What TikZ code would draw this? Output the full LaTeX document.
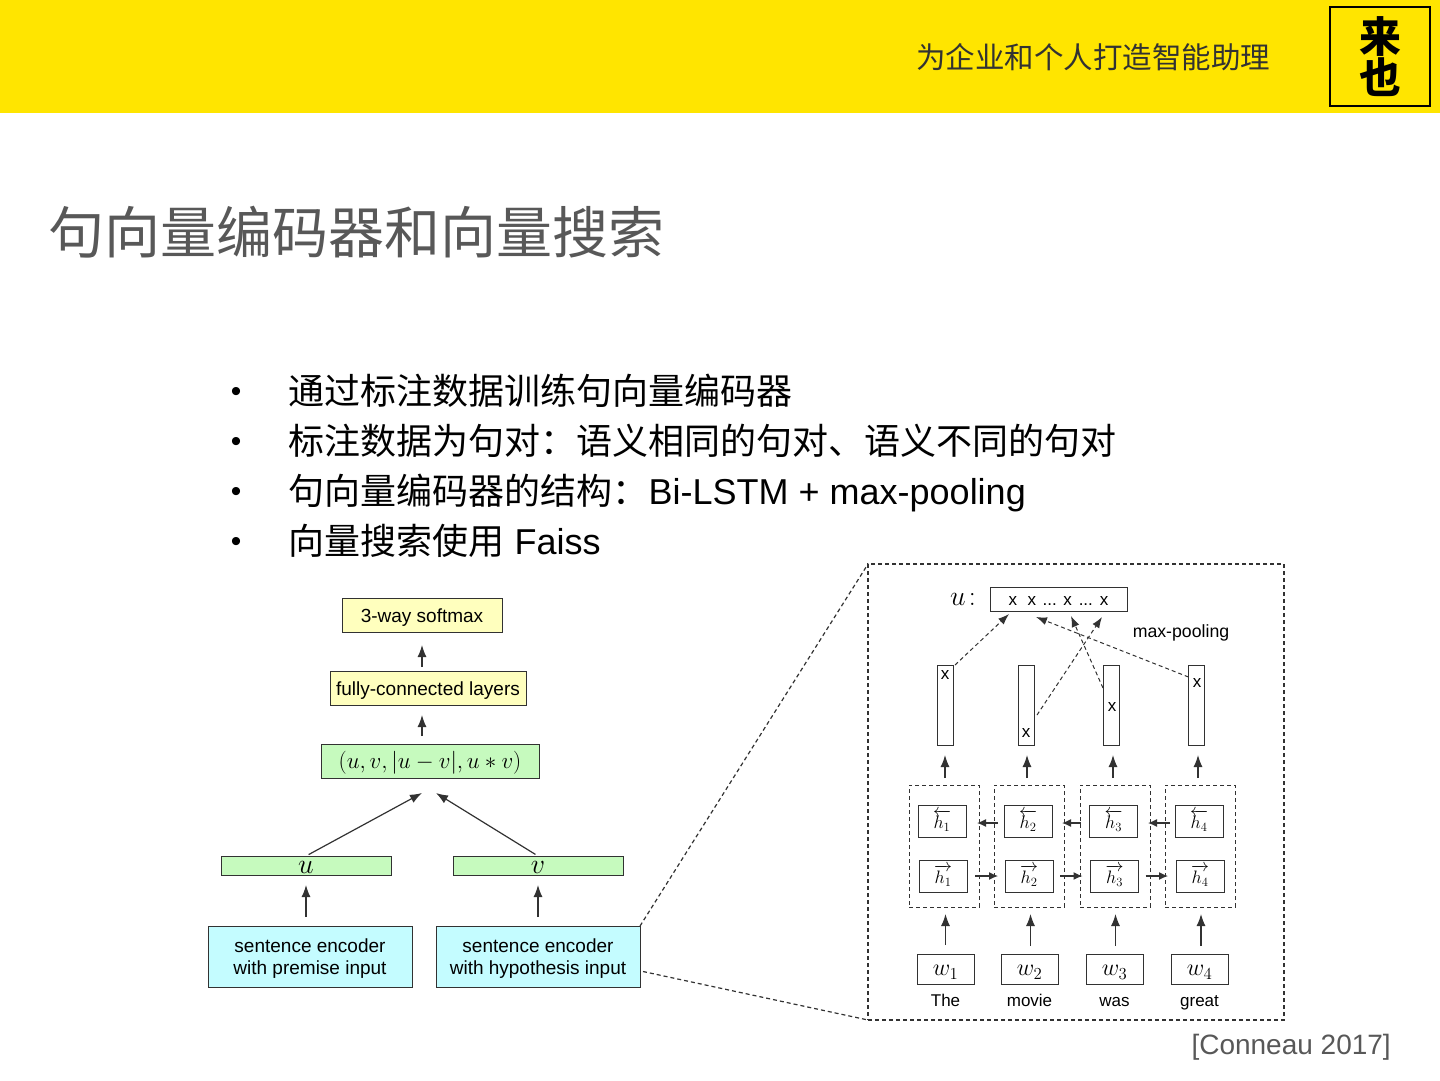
\documentclass[tikz,border=0pt]{standalone}
\usepackage{fix-cm}
\usepackage{amsmath,amssymb}
\usepackage{fontspec}
\setmainfont{Liberation Sans}
\newfontfamily\cjk{Noto Sans CJK SC}
\usetikzlibrary{arrows.meta,calc,positioning}
\definecolor{BrandYellow}{RGB}{255,229,0}
\definecolor{TitleGray}{RGB}{88,88,88}
\definecolor{SoftYellow}{RGB}{255,255,190}
\definecolor{SoftGreen}{RGB}{198,250,190}
\definecolor{SoftCyan}{RGB}{196,252,255}
\definecolor{LineGray}{RGB}{50,50,50}
\tikzset{
  box/.style={draw=LineGray,line width=1pt,outer sep=0pt,inner sep=0pt,font=\fontsize{19}{22}\selectfont,text height=16pt,text depth=2pt},
  twoline/.style={box,align=center,text height=37pt,text depth=2pt},
  hbox/.style={box,minimum width=48pt,minimum height=32pt,font=\fontsize{18}{20}\selectfont,text height=20pt,text depth=5pt},
  wbox/.style={box,minimum width=57pt,minimum height=30pt,font=\fontsize{24}{24}\selectfont,text height=15pt,text depth=2pt},
  vecbox/.style={box,minimum width=16pt,minimum height=80pt,text height=0pt,text depth=0pt},
  group/.style={draw=LineGray,line width=1pt,dash pattern=on 4pt off 3pt,outer sep=0pt,minimum width=70pt,minimum height=122pt},
  word/.style={font=\fontsize{17}{20}\selectfont,inner sep=0pt,text height=12pt,text depth=4pt},
  xmark/.style={font=\fontsize{17}{20}\selectfont,inner sep=0pt},
  arr/.style={-{Latex[length=12pt,width=9pt]},line width=1.2pt,LineGray},
  small arr/.style={-{Latex[length=9pt,width=8pt]},line width=1.1pt,LineGray},
  dash arr/.style={-{Latex[length=11pt,width=8pt]},line width=1pt,LineGray,dash pattern=on 4pt off 3pt},
  zoom line/.style={line width=1.2pt,LineGray,dash pattern=on 4pt off 3pt},
  bullettext/.style={anchor=base west,inner sep=0pt,font=\fontsize{36}{40}\selectfont},
  bulletdot/.style={anchor=base,inner sep=0pt,font=\fontsize{30}{34}\selectfont},
}
\begin{document}
\begin{tikzpicture}[x=1pt,y=-1pt]
\useasboundingbox (0,0) rectangle (1440,1080);
\fill[BrandYellow] (0,0) rectangle (1440,113);
\node[anchor=east,inner sep=0pt,font=\cjk\fontsize{29.5}{32}\selectfont,text=LineGray] (slogan) at (1270.5,57) {为企业和个人打造智能助理};
\node[draw=black,line width=1.1pt,minimum width=100pt,minimum height=99pt,inner sep=0pt,align=center,font=\cjk\bfseries\fontsize{42}{37}\selectfont] (logo) at (1380,56.5) {来\\也};
\node[anchor=west,inner sep=0pt,font=\cjk\fontsize{56}{60}\selectfont,text=TitleGray] (title) at (48.5,232) {句向量编码器和向量搜索};

\node[bulletdot] (dot1) at (236,401) {•};
\node[bullettext] (line1) at (288.5,404) {\cjk 通过标注数据训练句向量编码器};
\node[bulletdot] (dot2) at (236,451) {•};
\node[bullettext] (line2) at (288.5,454) {\cjk 标注数据为句对：语义相同的句对、语义不同的句对};
\node[bulletdot] (dot3) at (236,501) {•};
\node[bullettext] (line3) at (288.5,504) {{\cjk 句向量编码器的结构：}Bi-LSTM + max-pooling};
\node[bulletdot] (dot4) at (236,551) {•};
\node[bullettext] (line4) at (288.5,554) {{\cjk 向量搜索使用} Faiss};

% left model
\node[box,fill=SoftYellow,minimum width=160pt,minimum height=34pt] (softmax) at (422,615) {3-way softmax};
\node[box,fill=SoftYellow,minimum width=196pt,minimum height=34pt,below=39pt of softmax,xshift=6pt] (fc) {fully-connected layers};
\node[box,fill=SoftGreen,minimum width=218pt,minimum height=34pt,below=39pt of fc,xshift=2pt,font=\fontsize{23}{24}\selectfont] (concat) {$(u,v,|u-v|,u*v)$};
\node[twoline,fill=SoftCyan,minimum width=204pt,minimum height=61pt] (premise) at (310,956.5) {sentence encoder\\with premise input};
\node[twoline,fill=SoftCyan,minimum width=204pt,minimum height=61pt,right=24pt of premise] (hypothesis) {sentence encoder\\with hypothesis input};
\node[box,fill=SoftGreen,minimum width=170pt,minimum height=19pt,above=51pt of premise,xshift=-4pt,font=\fontsize{28}{28}\selectfont,text height=16pt,text depth=1pt] (ubox) {$u$};
\node[box,fill=SoftGreen,minimum width=170pt,minimum height=19pt,above=51pt of hypothesis,font=\fontsize{28}{28}\selectfont,text height=16pt,text depth=1pt] (vbox) {$v$};
\coordinate (uin) at (422,793);
\coordinate (vin) at (436,793);
\draw[arr,shorten <=4pt,shorten >=13pt] (fc.north -| softmax) -- (softmax);
\draw[arr,shorten <=8pt,shorten >=10pt] (concat.north -| softmax) -- (fc.south -| softmax);
\draw[arr,shorten <=3pt] (ubox.north) -- (uin);
\draw[arr,shorten <=3pt] (vbox.north) -- (vin);
\draw[arr,shorten <=9pt,shorten >=10pt] (premise.north -| ubox) -- (ubox);
\draw[arr,shorten <=9pt,shorten >=10pt] (hypothesis.north) -- (vbox);

% zoomed encoder
\node[draw=LineGray,line width=1.2pt,dash pattern=on 4pt off 3pt,minimum width=416pt,minimum height=456pt,outer sep=0pt] (frame) at (1076,792) {};
\draw[zoom line] (hypothesis.north east) -- (frame.north west);
\draw[zoom line] ([xshift=3pt,yshift=-15pt]hypothesis.east) -- (frame.south west);

\node[wbox] (w1) at (945.5,969) {$w_1$};
\node[wbox,right=27pt of w1] (w2) {$w_2$};
\node[wbox,right=28pt of w2] (w3) {$w_3$};
\node[wbox,right=28pt of w3] (w4) {$w_4$};
\node[word,below=10pt of w1] (the) {The};
\node[word,below=10pt of w2] (movie) {movie};
\node[word,below=10pt of w3] (was) {was};
\node[word,below=10pt of w4] (great) {great};

\node[group,above=47pt of w1,xshift=-1.5pt] (g1) {};
\node[group,right=15pt of g1] (g2) {};
\node[group,right=16pt of g2] (g3) {};
\node[group,right=15pt of g3] (g4) {};
\node[hbox,below=20pt of g1.north,xshift=-2pt] (hb1) {$\overleftarrow{h_1}$};
\node[hbox,below=20pt of g2.north,xshift=-1pt] (hb2) {$\overleftarrow{h_2}$};
\node[hbox,below=20pt of g3.north,xshift=-1.5pt] (hb3) {$\overleftarrow{h_3}$};
\node[hbox,below=20pt of g4.north,xshift=-1pt] (hb4) {$\overleftarrow{h_4}$};
\node[hbox,below=23pt of hb1,xshift=1pt] (hf1) {$\overrightarrow{h_1}$};
\node[hbox,below=23pt of hb2,xshift=1pt] (hf2) {$\overrightarrow{h_2}$};
\node[hbox,below=23pt of hb3,xshift=1pt] (hf3) {$\overrightarrow{h_3}$};
\node[hbox,below=23pt of hb4,xshift=1pt] (hf4) {$\overrightarrow{h_4}$};
\draw[small arr,shorten >=-2pt] ([xshift=4pt,yshift=-2pt]g2.west |- hb2) -- ([yshift=-2pt]g1.east |- hb1);
\draw[small arr,shorten >=-2pt] ([xshift=1pt,yshift=-2pt]g3.west |- hb3) -- ([yshift=-2pt]g2.east |- hb2);
\draw[small arr,shorten >=-2pt] ([xshift=5pt,yshift=-2pt]g4.west |- hb4) -- ([yshift=-2pt]g3.east |- hb3);
\draw[small arr,shorten <=8pt,shorten >=7pt] (hf1.east) -- (hf2.west);
\draw[small arr,shorten <=7pt,shorten >=8pt] (hf2.east) -- (hf3.west);
\draw[small arr,shorten <=7pt,shorten >=8pt] (hf3.east) -- (hf4.west);
\draw[arr,shorten <=9pt,shorten >=7pt] (w1.north) -- (w1.north |- g1.south);
\draw[arr,shorten <=8pt,shorten >=7pt] ([xshift=1pt]w2.north) -- ([xshift=1pt]w2.north |- g2.south);
\draw[arr,shorten <=8pt,shorten >=7pt] ([xshift=1pt]w3.north) -- ([xshift=1pt]w3.north |- g3.south);
\draw[arr,shorten <=8pt,shorten >=7pt] ([xshift=1.5pt]w4.north) -- ([xshift=1.5pt]w4.north |- g4.south);

\node[vecbox,above=40pt of g1,xshift=1pt] (vec1) {};
\node[vecbox,above=40pt of g2,xshift=-3pt] (vec2) {};
\node[vecbox,above=40pt of g3,xshift=-4pt] (vec3) {};
\node[vecbox,above=40pt of g4,xshift=-3.5pt] (vec4) {};
\node[xmark] (x1) at (945,675) {x};
\node[xmark] (x2) at (1026,733) {x};
\node[xmark] (x3) at (1112,707) {x};
\node[xmark] (x4) at (1197,683) {x};
\draw[arr,shorten <=7pt,shorten >=10pt] (g1.north -| vec1) -- (vec1);
\draw[arr,shorten <=7pt,shorten >=10pt] ([xshift=1pt]g2.north -| vec2) -- ([xshift=1pt]vec2.south);
\draw[arr,shorten <=7pt,shorten >=10pt] ([xshift=2pt]g3.north -| vec3) -- ([xshift=2pt]vec3.south);
\draw[arr,shorten <=7pt,shorten >=10pt] ([xshift=1.5pt]g4.north -| vec4) -- ([xshift=1.5pt]vec4.south);

\node[box,minimum width=137pt,minimum height=24pt,font=\fontsize{17}{20}\selectfont,text height=13pt,text depth=0pt] (pool) at (1058.5,599) {x\hspace{10.5pt}x\hspace{6.5pt}...\hspace{6.5pt}x\hspace{7pt}...\hspace{7pt}x};
\node[anchor=east,inner sep=0pt,font=\fontsize{28}{28}\selectfont,left=14pt of pool] (ulabel) {$u\!:$};
\node[word,font=\fontsize{17.7}{20}\selectfont] (maxpool) at (1181,633.5) {max-pooling};
\coordinate (tip1) at (1009,614);
\coordinate (tip2) at (1102,617);
\coordinate (tip3) at (1071,616);
\coordinate (tip4) at (1036,617);
\draw[dash arr] ([xshift=2pt]vec1.north east) -- (tip1);
\draw[dash arr] ([xshift=3pt,yshift=-10pt]vec2.east) -- (tip2);
\draw[dash arr] ([yshift=-23pt]vec3.north west) -- (tip3);
\draw[dash arr] ([yshift=-12pt]vec4.north west) -- (tip4);

\node[anchor=east,inner sep=0pt,font=\fontsize{28}{30}\selectfont,text=TitleGray] (cite) at (1391,1047.5) {[Conneau 2017]};
\end{tikzpicture}
\end{document}
